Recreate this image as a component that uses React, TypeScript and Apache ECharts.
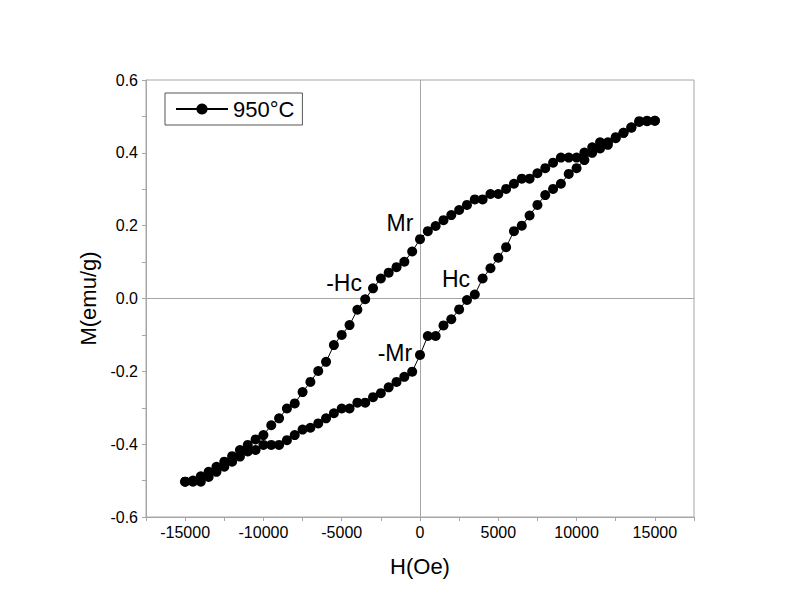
import React, { useEffect, useRef } from "react";
import * as echarts from "echarts";

const seriesName = "950°C";

// Upper branch: field swept from +15000 Oe down to -15000 Oe
const upperH = [
  15000, 14500, 14000, 13500, 13000, 12500, 12000, 11500, 11000, 10500,
  10000, 9500, 9000, 8500, 8000, 7500, 7000, 6500, 6000, 5500,
  5000, 4500, 4000, 3500, 3000, 2500, 2000, 1500, 1000, 500,
  0, -500, -1000, -1500, -2000, -2500, -3000, -3500, -4000, -4500,
  -5000, -5500, -6000, -6500, -7000, -7500, -8000, -8500, -9000, -9500,
  -10000, -10500, -11000, -11500, -12000, -12500, -13000, -13500, -14000, -14500,
  -15000,
];
const upperM = [
  0.488, 0.488, 0.487, 0.469, 0.455, 0.443, 0.429, 0.429, 0.415, 0.401,
  0.387, 0.387, 0.387, 0.373, 0.358, 0.344, 0.329, 0.329, 0.315, 0.301,
  0.287, 0.287, 0.272, 0.272, 0.257, 0.243, 0.229, 0.215, 0.199, 0.185,
  0.163, 0.129, 0.101, 0.086, 0.071, 0.055, 0.028, -0.002, -0.031, -0.073,
  -0.1, -0.128, -0.174, -0.199, -0.229, -0.257, -0.288, -0.302, -0.329, -0.348,
  -0.375, -0.387, -0.402, -0.416, -0.433, -0.448, -0.462, -0.476, -0.488, -0.5,
  -0.503,
];

// Lower branch: field swept from -15000 Oe up to +15000 Oe
const lowerH = [
  -15000, -14500, -14000, -13500, -13000, -12500, -12000, -11500, -11000, -10500,
  -10000, -9500, -9000, -8500, -8000, -7500, -7000, -6500, -6000, -5500,
  -5000, -4500, -4000, -3500, -3000, -2500, -2000, -1500, -1000, -500,
  0, 500, 1000, 1500, 2000, 2500, 3000, 3500, 4000, 4500,
  5000, 5500, 6000, 6500, 7000, 7500, 8000, 8500, 9000, 9500,
  10000, 10500, 11000, 11500, 12000, 12500, 13000, 13500, 14000, 14500,
  15000,
];
const lowerM = [
  -0.503, -0.503, -0.503, -0.49, -0.476, -0.462, -0.448, -0.434, -0.42, -0.416,
  -0.402, -0.402, -0.402, -0.389, -0.375, -0.36, -0.355, -0.343, -0.329, -0.315,
  -0.302, -0.302, -0.286, -0.286, -0.271, -0.26, -0.244, -0.229, -0.215, -0.201,
  -0.155, -0.103, -0.103, -0.074, -0.057, -0.03, -0.004, 0.011, 0.055, 0.083,
  0.112, 0.141, 0.185, 0.2, 0.228, 0.257, 0.284, 0.301, 0.315, 0.342,
  0.358, 0.38, 0.4, 0.412, 0.422, 0.44, 0.455, 0.47, 0.485, 0.487,
  0.488,
];

// Annotation texts and their anchor points (data coordinates)
const annotationTexts = ["Mr", "-Hc", "Hc", "-Mr"];
const annotationH = [-1280, -4850, 2300, -1600];
const annotationM = [0.207, 0.042, 0.054, -0.15];

const xTickValues = [-15000, -10000, -5000, 0, 5000, 10000, 15000];

const FONT = "'Liberation Sans', Arial, Helvetica, sans-serif";

export default function App() {
  const ref = useRef<HTMLDivElement>(null);

  useEffect(() => {
    if (!ref.current) return;
    const chart = echarts.init(ref.current, undefined, { renderer: "svg" });

    const loop: number[][] = [];
    upperH.forEach((h, i) => loop.push([h, upperM[i]]));
    lowerH.forEach((h, i) => loop.push([h, lowerM[i]]));

    const annotations = annotationTexts.map((t, i) => ({
      value: [annotationH[i], annotationM[i]],
      name: t,
    }));

    chart.setOption({
      animation: false,
      backgroundColor: "#ffffff",
      textStyle: { fontFamily: FONT },
      grid: { left: 138, top: 72, width: 548, height: 437, show: true, borderColor: "#a6a6a6", borderWidth: 1, backgroundColor: "transparent" },
      legend: {
        data: [seriesName],
        left: 157,
        top: 85,
        orient: "vertical",
        borderColor: "#555555",
        borderWidth: 1,
        borderRadius: 0,
        padding: [5, 8, 5, 10],
        itemWidth: 52,
        itemHeight: 14,
        itemGap: 0,
        textStyle: { fontFamily: FONT, fontSize: 22, color: "#000" },
      },
      xAxis: {
        type: "value",
        min: -17500,
        max: 17500,
        interval: 2500,
        name: "H(Oe)",
        nameLocation: "middle",
        nameGap: 38,
        nameTextStyle: { fontFamily: FONT, fontSize: 22, color: "#000" },
        axisLine: { show: true, onZero: false, lineStyle: { color: "#a6a6a6", width: 1 } },
        axisTick: { show: true, length: 4, lineStyle: { color: "#a6a6a6" } },
        splitLine: { show: false },
        axisLabel: {
          margin: 7,
          fontFamily: FONT,
          fontSize: 16,
          color: "#000",
          showMinLabel: true,
          showMaxLabel: true,
          formatter: (v: number) => (xTickValues.indexOf(v) >= 0 ? String(v) : ""),
        },
      },
      yAxis: {
        type: "value",
        min: -0.6,
        max: 0.6,
        interval: 0.2,
        name: "M(emu/g)",
        nameLocation: "middle",
        nameGap: 40,
        nameTextStyle: { fontFamily: FONT, fontSize: 22, color: "#000" },
        axisLine: { show: true, onZero: false, lineStyle: { color: "#a6a6a6", width: 1 } },
        axisTick: { show: true, length: 4, lineStyle: { color: "#a6a6a6" } },
        minorTick: { show: true, splitNumber: 2, length: 4, lineStyle: { color: "#a6a6a6" } },
        splitLine: { show: false },
        axisLabel: {
          margin: 8,
          fontFamily: FONT,
          fontSize: 16,
          color: "#000",
          formatter: (v: number) => v.toFixed(1),
        },
      },
      series: [
        {
          name: seriesName,
          type: "line",
          data: loop,
          symbol: "circle",
          symbolSize: 10,
          itemStyle: { color: "#000" },
          lineStyle: { color: "#000", width: 1 },
          markLine: {
            silent: true,
            symbol: "none",
            label: { show: false },
            lineStyle: { color: "#a6a6a6", width: 1, type: "solid" },
            data: [{ xAxis: 0 }, { yAxis: 0 }],
            z: 1,
          },
          z: 3,
        },
        {
          name: "annotations",
          type: "scatter",
          data: annotations,
          symbolSize: 0,
          silent: true,
          itemStyle: { color: "#000" },
          label: {
            show: true,
            position: "inside",
            formatter: (p: any) => p.name,
            fontFamily: FONT,
            fontSize: 23,
            color: "#000",
            textBorderWidth: 0,
            opacity: 1,
          },
          z: 4,
        },
      ],
    });

    return () => chart.dispose();
  }, []);

  return <div ref={ref} style={{ width: 770, height: 596 }} />;
}
